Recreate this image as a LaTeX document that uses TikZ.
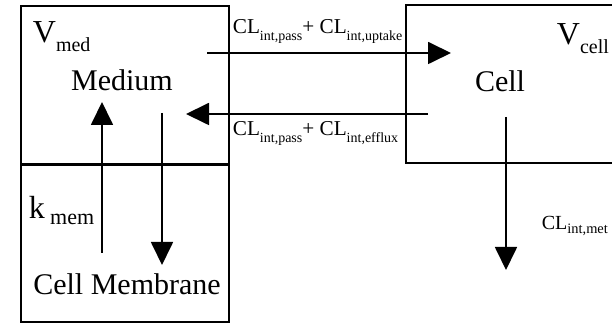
\documentclass[tikz,border=0pt]{standalone}
\usepackage{fontspec}
\setmainfont{Liberation Serif}
\usetikzlibrary{arrows.meta}

% lowered subscripts
\newcommand{\volsub}[1]{\raisebox{-4.5pt}{\fontsize{10}{12}\selectfont #1}}
\newcommand{\clsub}[1]{\raisebox{-3.5pt}{\fontsize{7}{8}\selectfont #1}}

\begin{document}
\begin{tikzpicture}[x=0.5pt,y=-0.5pt,line width=0.9pt,
    flow/.style={-{Triangle[length=11.5pt,width=11pt]}},
    lbl/.style={inner sep=0pt,anchor=base west},
    title/.style={inner sep=0pt,anchor=base,font=\fontsize{15}{18}\selectfont}]
    \useasboundingbox (0,0) rectangle (612,325);

    % Medium and membrane compartment
    \draw (21,6) rectangle (229,322);
    \draw[line width=1.5pt] (21,165) -- (229,165);

    % Cell compartment (open on the right)
    \draw (612,5) -- (406,5) -- (406,163) -- (612,163);

    % Compartment names
    \node[title] (medium) at (122,91) {Medium};
    \node[title] (cell) at (500,92) {Cell};
    \node[title] (membrane) at (127,295) {Cell Membrane};

    % Volumes and rate constant
    \node[lbl,font=\fontsize{16}{18}\selectfont] (vmed) at (32,43) {V\volsub{med}};
    \node[lbl,font=\fontsize{16}{18}\selectfont] (vcell) at (556,45) {V\volsub{cell}};
    \node[lbl,font=\fontsize{16}{18}\selectfont] (kmem) at (28,219)
        {k\,\raisebox{-3pt}{\fontsize{11}{12}\selectfont mem}};

    % Clearance labels
    \node[lbl,font=\fontsize{10.6}{12}\selectfont] (upLbl) at (232,34)
        {CL\clsub{int,pass}+ CL\clsub{int,uptake}};
    \node[lbl,font=\fontsize{10.6}{12}\selectfont] (outLbl) at (232,136)
        {CL\clsub{int,pass}+ CL\clsub{int,efflux}};
    \node[lbl,font=\fontsize{10}{11}\selectfont] (metLbl) at (541,230)
        {CL\raisebox{-2pt}{\fontsize{7.2}{8}\selectfont int,met}};

    % Arrow end points
    \coordinate (uptakeS) at (207,53);
    \coordinate (uptakeE) at (451,53);
    \coordinate (effluxS) at (428,114);
    \coordinate (effluxE) at (186,114);
    \coordinate (memUpS) at (102,253);
    \coordinate (memUpE) at (102,102);
    \coordinate (memDnS) at (162,113);
    \coordinate (memDnE) at (162,265);
    \coordinate (metS) at (506,117);
    \coordinate (metE) at (506,270);

    % Transport arrows
    \draw[flow] (uptakeS) -- (uptakeE);
    \draw[flow] (effluxS) -- (effluxE);
    \draw[flow] (memUpS) -- (memUpE);
    \draw[flow] (memDnS) -- (memDnE);
    \draw[flow] (metS) -- (metE);

\end{tikzpicture}
\end{document}
